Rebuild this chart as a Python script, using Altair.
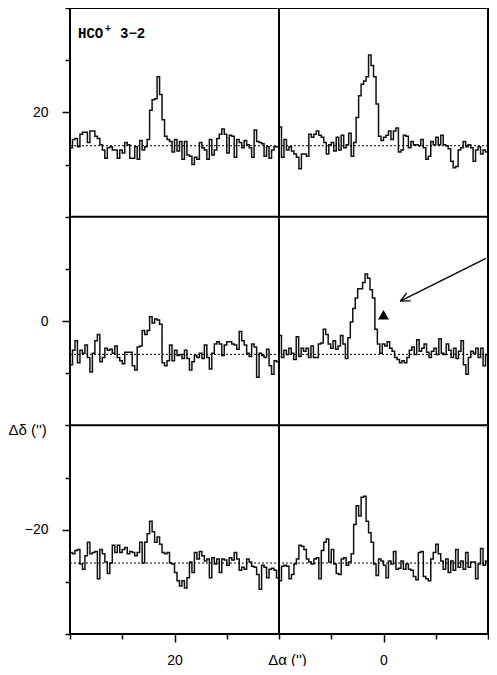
import altair as alt
import pandas as pd
import numpy as np

# ---- layout of the map (arcsec) ----
col_start = [30, 10]          # Δα at the left edge of each column (axis runs 30 -> -10)
row_center = [20, 0, -20]     # Δδ of each row centre
baseline_offset = -3.2        # spectrum zero level relative to row centre
panel_width = 20
x_ticks = [30, 25, 20, 15, 10, 5, 0, -5, -10]
y_ticks = [30, 25, 20, 15, 10, 5, 0, -5, -10, -15, -20, -25, -30]
dividers_x = [10]
dividers_y = [10, -10]

# ---- spectra (intensity offsets, one value per channel) ----
tl = [-0.2, 0.6, 0.7, -0.1, 1.1, 1.3, 1.3, 0.3, 1.4, 1.4,
      0.9, 0.7, 0.1, -0.4, -1.2, -0.2, -0.1, -0.4, -0.4, -1.2,
      -0.4, -0.7, 0.3, 0.1, -1.2, -1.2, -0.1, -1.3, 0.5, -0.4,
      -0.1, 0.6, 3.4, 4.4, 4.5, 6.6, 4.9, 2.5, 0.9, 0.6,
      0.4, -0.6, 0.6, -0.5, 0.4, -1.3, 0.4, -0.9, -1.0, -1.8,
      -1.1, -1.3, 0.3, -0.2, -0.4, -1.3, 0.6, -0.9, -0.4, 0.7,
      1.1, 1.6, 1.1, -0.7, 1.0, 0.9, -1.1, 0.6, 0.3, -0.2,
      0.5, 0.1, -0.2, -1.1, 1.5, 0.4, 0.3, 0.2, -1.0, -0.1,
      -1.2, -0.4, -0.1, -0.1]
tr = [1.8, -1.1, 0.6, -0.4, -0.1, -0.5, -0.8, -1.1, -2.2, -0.8,
      -0.8, -1.0, 1.1, 0.8, 1.1, 1.4, 1.0, 0.8, 0.3, -0.8,
      0.1, 0.3, -0.5, 0.8, -0.4, 1.0, -0.2, 0.1, 1.2, -1.0,
      0.3, 2.7, 4.8, 5.9, 6.2, 6.6, 8.7, 7.7, 6.6, 4.0,
      0.9, 0.5, 0.8, 1.0, 1.4, 0.6, 1.4, 1.7, -0.6, -0.4,
      1.0, 0.9, -0.2, 0.4, 0.1, 0.1, 0.0, 0.6, -0.2, -1.3,
      -1.0, 0.4, 0.1, 0.8, 0.1, 1.0, 0.1, 0.0, -0.3, -1.5,
      -2.1, -2.0, -0.4, -0.2, 0.4, -0.1, 0.1, -0.2, -1.5, -0.4,
      -0.1, -0.8, -0.4, -0.6]
ml = [-1.0, 0.4, 1.3, -0.8, 0.4, 0.1, 0.9, -0.3, -1.7, 0.1,
      1.3, 1.9, -0.7, -0.3, 0.6, 0.4, 0.5, 0.1, 0.8, -0.3,
      -0.6, -0.9, 0.2, 0.2, 0.2, -1.1, -1.5, 0.7, 0.8, 2.3,
      1.9, 2.3, 3.6, 3.0, 3.4, 3.3, 2.9, -0.8, -1.1, -0.6,
      0.9, -0.6, 0.4, -0.1, 0.0, -0.4, 0.4, -0.4, -1.5, -0.7,
      -0.1, -0.3, 0.1, -0.4, 0.9, -0.3, -1.4, 0.1, 1.0, 1.2,
      1.0, -0.1, 0.9, 1.2, 1.2, 1.0, 0.9, 0.5, 2.2, 1.3,
      0.9, 0.1, -0.2, 1.0, 0.7, -2.2, 0.1, -0.1, -0.3, 0.5,
      -1.1, -1.9, -0.6, -0.7]
mr = [1.8, -0.3, 0.4, 0.0, 0.6, 0.1, -0.5, 1.7, -0.2, 0.6,
      0.3, 0.6, -0.3, 0.8, -0.3, -0.3, 1.0, 1.1, 2.4, 1.9,
      1.0, 0.6, 1.3, 0.5, 0.8, 1.8, 1.0, -0.4, 1.6, 3.1,
      4.4, 5.4, 6.3, 6.3, 6.9, 7.7, 7.3, 6.2, 5.4, 2.4,
      1.0, 0.1, 1.0, 0.8, 1.2, 0.6, 0.3, -0.3, -0.5, -0.8,
      -0.6, -0.8, -0.3, 0.4, 0.7, 0.0, 1.4, 0.3, 0.6, 1.0,
      0.2, -0.3, 0.3, 0.6, 0.0, 1.5, 0.1, 0.0, 1.0, 0.4,
      -0.3, 0.6, -0.4, 0.3, 1.3, -1.0, -1.9, -0.3, 0.3, 0.1,
      0.6, -0.3, 0.6, -1.1, 0.0]
bl = [1.0, 0.9, 1.2, 1.3, -0.1, -0.6, 0.7, 2.0, 0.9, 1.0,
      1.1, -1.5, 1.3, 0.9, 0.1, -1.0, 0.0, 1.7, 1.0, 1.7,
      1.0, 1.3, 1.5, 0.9, 1.1, 1.0, 0.7, 1.0, 2.0, 0.0,
      2.0, 2.8, 4.0, 3.0, 2.0, 2.5, 1.8, 1.0, 0.9, 1.0,
      0.0, -0.1, -0.9, -1.7, -2.2, -1.7, -2.4, -1.4, 0.1, -0.9,
      1.0, 0.4, 1.1, 0.7, 0.2, 0.4, -1.4, 0.5, -0.1, 0.4,
      -0.9, 0.4, 0.3, -0.2, 0.5, 0.3, 1.0, 0.4, -0.7, -0.4,
      -0.6, 0.4, 0.1, -0.3, -0.4, -1.1, -2.5, -0.2, -0.4, -1.4,
      -0.6, -0.5, -0.7, -1.4]
br = [-1.7, -0.3, -0.2, -0.3, -1.5, -1.1, -0.1, 0.4, 1.7, 1.6,
      1.3, 0.4, 0.1, -0.1, 0.4, 0.5, -1.5, 1.2, 2.0, 2.3,
      0.1, 1.3, -0.1, -1.0, -1.1, 0.4, 0.5, -0.2, 0.1, 0.9,
      3.7, 5.5, 4.5, 6.3, 6.4, 4.0, 2.9, 2.0, -0.1, -1.2,
      0.4, 0.2, -0.2, -1.4, 0.2, -0.1, 1.1, -0.6, -0.5, 0.2,
      -0.6, -0.1, -0.6, -0.7, -1.3, -1.6, 1.0, 1.1, -1.3, -1.5,
      -1.7, 0.4, 1.0, 1.8, 0.9, 0.2, -0.6, 0.4, -0.9, 0.2,
      -0.7, 1.3, -0.4, 0.2, -0.6, 1.0, -0.4, 0.1, 0.1, -1.5,
      -0.1, 1.4, -0.2, 0.2]

spectra = {(0, 0): tl, (1, 0): tr, (0, 1): ml, (1, 1): mr, (0, 2): bl, (1, 2): br}

# ---- annotations ----
marker_x = [0.0]
marker_y = [0.6]
arrow_tail = [-9.8, 6.0]
arrow_tip = [-1.6, 1.9]
label_parts = ["HCO", "+", "3\u22122"]

# ---- build tables ----
rows = []
for (c, r), vals in spectra.items():
    n = len(vals)
    w = panel_width / n
    base = row_center[r] + baseline_offset
    for i, v in enumerate(vals):
        a = col_start[c] - i * w
        rows.append(dict(panel=f"{c}-{r}", x=a, y=base + v, o=2 * i))
        rows.append(dict(panel=f"{c}-{r}", x=a - w, y=base + v, o=2 * i + 1))
spec_df = pd.DataFrame(rows)

base_df = pd.DataFrame({
    "x": [max(x_ticks)] * len(row_center),
    "x2": [min(x_ticks)] * len(row_center),
    "y": [rc + baseline_offset for rc in row_center],
})

div_df = pd.DataFrame(
    [dict(x=d, x2=d, y=min(y_ticks), y2=max(y_ticks)) for d in dividers_x]
    + [dict(x=max(x_ticks), x2=min(x_ticks), y=d, y2=d) for d in dividers_y]
)

tip = np.array(arrow_tip)
tail = np.array(arrow_tail)
d = (tail - tip) / np.linalg.norm(tail - tip)
segs = [dict(x=tail[0], y=tail[1], x2=tip[0], y2=tip[1])]
for ang in (np.radians(25), -np.radians(25)):
    rot = np.array([[np.cos(ang), -np.sin(ang)], [np.sin(ang), np.cos(ang)]])
    e = tip + 1.0 * rot @ d
    segs.append(dict(x=tip[0], y=tip[1], x2=e[0], y2=e[1]))
arrow_df = pd.DataFrame(segs)
tri_df = pd.DataFrame({"x": marker_x, "y": marker_y})

# ---- scales / axes ----
xs = alt.Scale(domain=[min(x_ticks), max(x_ticks)], reverse=True, nice=False, zero=False)
ys = alt.Scale(domain=[min(y_ticks), max(y_ticks)], nice=False, zero=False)
tick_size = {"condition": {"test": "datum.value % 20 == 0", "value": 8}, "value": 5}
FONT = "Liberation Sans"

x_bottom = alt.Axis(values=x_ticks, tickSize=tick_size, domain=False, grid=False,
                    tickColor="black", tickWidth=1.5,
                    labelExpr="datum.value % 20 == 0 ? datum.label : ''",
                    labelFont=FONT, labelFontSize=14, labelColor="black", labelPadding=11,
                    title="\u0394\u03b1 ('')", titleFont=FONT, titleFontSize=15,
                    titleFontWeight="normal", titleColor="black",
                    titleX=217, titleY=30, titleAlign="center", titleBaseline="alphabetic")
y_left = alt.Axis(values=y_ticks, tickSize=tick_size, domain=False, grid=False,
                  tickColor="black", tickWidth=1.5,
                  labelExpr="datum.value % 20 == 0 ? datum.label : ''",
                  labelFont=FONT, labelFontSize=14, labelColor="black", labelPadding=14,
                  title="\u0394\u03b4 ('')", titleFont=FONT, titleFontSize=15,
                  titleFontWeight="normal", titleColor="black", titleAngle=0,
                  titleX=-62, titleY=421, titleAlign="left", titleBaseline="middle")
x_top = alt.Axis(values=x_ticks, orient="top", tickSize=tick_size, domain=False, grid=False,
                 tickColor="black", tickWidth=1.5, labels=False, title=None)
y_right = alt.Axis(values=y_ticks, orient="right", tickSize=tick_size, domain=False, grid=False,
                   tickColor="black", tickWidth=1.5, labels=False, title=None)

spec = alt.Chart(spec_df).mark_line(color="#111", strokeWidth=1.5, interpolate="linear").encode(
    x=alt.X("x:Q", scale=xs, axis=x_bottom),
    y=alt.Y("y:Q", scale=ys, axis=y_left),
    detail="panel:N",
    order="o:Q",
)

baselines = alt.Chart(base_df).mark_rule(color="black", strokeWidth=1, strokeDash=[2, 2]).encode(
    x=alt.X("x:Q", scale=xs, axis=x_top),
    x2="x2:Q",
    y=alt.Y("y:Q", scale=ys, axis=y_right),
)

dividers = alt.Chart(div_df).mark_rule(color="black", strokeWidth=2).encode(
    x=alt.X("x:Q", scale=xs, axis=None), x2="x2:Q",
    y=alt.Y("y:Q", scale=ys, axis=None), y2="y2:Q",
)

arrow = alt.Chart(arrow_df).mark_rule(color="black", strokeWidth=1.3).encode(
    x=alt.X("x:Q", scale=xs, axis=None), x2="x2:Q",
    y=alt.Y("y:Q", scale=ys, axis=None), y2="y2:Q",
)

tri = alt.Chart(tri_df).mark_point(shape="triangle-up", filled=True, color="black",
                                   size=120, opacity=1).encode(
    x=alt.X("x:Q", scale=xs, axis=None),
    y=alt.Y("y:Q", scale=ys, axis=None),
)

lab_font = "Liberation Mono"
t1 = alt.Chart(pd.DataFrame({"t": [label_parts[0]]})).mark_text(
    font=lab_font, fontSize=14, fontWeight="bold", align="left", baseline="alphabetic", color="black"
).encode(text="t:N", x=alt.value(8), y=alt.value(30))
t2 = alt.Chart(pd.DataFrame({"t": [label_parts[1]]})).mark_text(
    font=lab_font, fontSize=10, fontWeight="bold", align="left", baseline="alphabetic", color="black"
).encode(text="t:N", x=alt.value(35), y=alt.value(24))
t3 = alt.Chart(pd.DataFrame({"t": [label_parts[2]]})).mark_text(
    font=lab_font, fontSize=14, fontWeight="bold", align="left", baseline="alphabetic", color="black"
).encode(text="t:N", x=alt.value(50), y=alt.value(30))

chart = alt.layer(spec, baselines, dividers, arrow, tri, t1, t2, t3).resolve_axis(
    x="independent", y="independent"
).properties(
    width=418, height=626,
    autosize=alt.AutoSizeParams(type="none"),
    padding={"left": 62, "top": 0, "right": 1, "bottom": 32},
).configure_view(stroke="black", strokeWidth=2)

chart.save("out.html", embed_options={"renderer": "svg", "actions": False})
